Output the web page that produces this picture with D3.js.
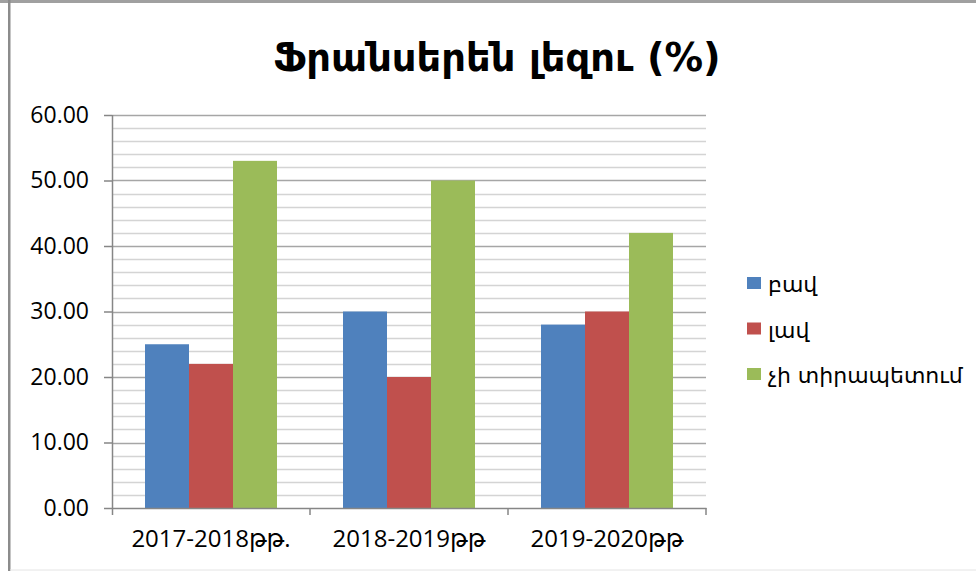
<!DOCTYPE html>
<html>
<head>
<meta charset="utf-8">
<script src="https://cdn.jsdelivr.net/npm/d3@7"></script>
<style>
  body { margin: 0; background: #fff; }
  svg text { font-family: "Open Sans", "DejaVu Sans", sans-serif; fill: #000; }
</style>
</head>
<body>
<div id="chart"></div>
<script>
// data
var years = ["2017-2018թթ.", "2018-2019թթ", "2019-2020թթ"];
var seriesNames = ["բավ", "լավ", "չի տիրապետում"];
var bav = [25, 30, 28];
var lav = [22, 20, 30];
var chiTirapetum = [53, 50, 42];
var yTicks = [0, 10, 20, 30, 40, 50, 60];
var colors = ["#4f81bd", "#c0504d", "#9bbb59"];

var W = 976, H = 571;
var margin = { top: 115, left: 112, right: 270, bottom: 63 };
var width = W - margin.left - margin.right,
  height = H - margin.top - margin.bottom;

var svg = d3.select("#chart").append("svg")
  .attr("width", W)
  .attr("height", H);

// outer frame
svg.append("rect").attr("x", 0).attr("y", 0).attr("width", W).attr("height", 3).attr("fill", "#a0a0a0");
svg.append("rect").attr("x", 8).attr("y", 0).attr("width", 2.5).attr("height", H).attr("fill", "#8c8c8c");
svg.append("line").attr("x1", 10).attr("x2", W).attr("y1", 570).attr("y2", 570).attr("stroke", "#e4e4e4");

// title
svg.append("text")
  .attr("x", 497).attr("y", 71)
  .attr("text-anchor", "middle")
  .style("font-family", "'DejaVu Sans', sans-serif")
  .style("font-weight", "bold")
  .style("font-size", "38.5px")
  .text("Ֆրանսերեն լեզու (%)");

var g = svg.append("g")
  .attr("transform", "translate(" + margin.left + "," + margin.top + ")");

var y = d3.scaleLinear().domain([0, 60]).range([height, 0]);
// Excel style: gap width 150% of bar -> group 132, gap 66
var x0 = d3.scaleBand().domain(years).range([0, width]).paddingInner(1 / 3).paddingOuter(1 / 6);
var x1 = d3.scaleBand().domain(seriesNames).range([0, x0.bandwidth()]);

// gridlines every 2, darker at 10s
var minor = d3.range(2, 61, 2);
g.selectAll(".grid")
  .data(minor)
  .enter()
  .append("line")
  .attr("x1", 0).attr("x2", width)
  .attr("y1", function(d) { return Math.round(y(d)) + 0.5; })
  .attr("y2", function(d) { return Math.round(y(d)) + 0.5; })
  .attr("stroke", function(d) { return d % 10 === 0 ? "#a6a6a6" : "#d4d4d4"; })
  .attr("stroke-width", 1.6);

// bars
var values = [bav, lav, chiTirapetum];
var groups = g.selectAll(".year")
  .data(years)
  .enter()
  .append("g")
  .attr("transform", function(d) { return "translate(" + x0(d) + ",0)"; });

groups.selectAll("rect")
  .data(function(d, i) {
    return seriesNames.map(function(s, j) { return { name: s, value: values[j][i], idx: j }; });
  })
  .enter()
  .append("rect")
  .attr("x", function(d) { return x1(d.name); })
  .attr("width", x1.bandwidth())
  .attr("y", function(d) { return y(d.value); })
  .attr("height", function(d) { return height - y(d.value); })
  .attr("fill", function(d) { return colors[d.idx]; });

// y axis
var yAxis = g.append("g")
  .call(d3.axisLeft(y).tickValues(yTicks).tickSize(8).tickFormat(d3.format(".2f")));
yAxis.select(".domain").attr("stroke", "#868686").attr("stroke-width", 1.5).attr("d", "M0.5,0V" + (height + 7));
yAxis.selectAll(".tick line").attr("stroke", "#868686").attr("stroke-width", 1.5);
yAxis.selectAll(".tick text")
  .attr("x", -23)
  .style("font-size", "23px")
  .style("font-family", "'Open Sans', 'DejaVu Sans', sans-serif");

// x axis
var xAxis = g.append("g")
  .attr("transform", "translate(0," + height + ")")
  .call(d3.axisBottom(x0).tickSize(0));
xAxis.select(".domain").attr("stroke", "#868686").attr("stroke-width", 1.5);
xAxis.selectAll(".tick text")
  .attr("dy", "0")
  .attr("y", 39)
  .style("font-size", "24px")
  .style("font-family", "'Open Sans', 'DejaVu Sans', sans-serif");
// category separators
g.selectAll(".sep")
  .data([1, 2, 3])
  .enter()
  .append("line")
  .attr("x1", function(d) { return d * width / 3; })
  .attr("x2", function(d) { return d * width / 3; })
  .attr("y1", height).attr("y2", height + 7)
  .attr("stroke", "#868686").attr("stroke-width", 1.5);

// legend
var legend = svg.append("g").attr("transform", "translate(747,277)");
legend.selectAll("rect")
  .data(seriesNames)
  .enter()
  .append("rect")
  .attr("x", 0)
  .attr("y", function(d, i) { return i * 45.5; })
  .attr("width", 14).attr("height", 12)
  .attr("fill", function(d, i) { return colors[i]; });
legend.selectAll("text")
  .data(seriesNames)
  .enter()
  .append("text")
  .attr("x", 21)
  .attr("y", function(d, i) { return i * 45.5 + 15; })
  .style("font-size", "22px")
  .style("font-family", "'DejaVu Sans', sans-serif")
  .text(function(d) { return d; });
</script>
</body>
</html>
